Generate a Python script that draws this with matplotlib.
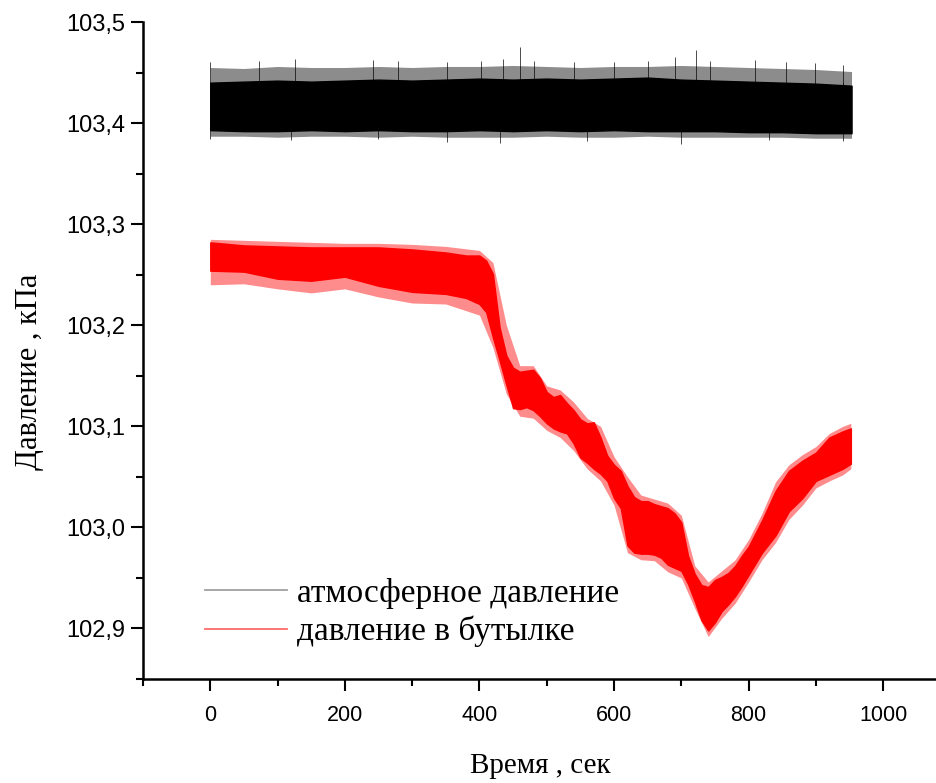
import matplotlib
matplotlib.use("Agg")
import matplotlib.pyplot as plt
from matplotlib.ticker import MultipleLocator, FuncFormatter
from matplotlib.lines import Line2D

# ---- data ----
# atmospheric pressure: dense core of the noise band (kPa)
black_t = [0, 50, 100, 150, 200, 250, 300, 350, 400, 450, 500, 550, 600, 650,
           700, 750, 800, 850, 900, 953]
black_hi = [103.440, 103.441, 103.442, 103.441, 103.442, 103.443, 103.442, 103.443,
            103.444, 103.443, 103.444, 103.443, 103.444, 103.445, 103.443, 103.442,
            103.441, 103.440, 103.439, 103.437]
black_lo = [103.393, 103.392, 103.392, 103.393, 103.392, 103.393, 103.392, 103.392,
            103.393, 103.392, 103.393, 103.392, 103.393, 103.392, 103.392, 103.392,
            103.391, 103.391, 103.390, 103.390]
# atmospheric pressure: sparse fringe of the noise band
black_fr_hi = [103.455, 103.454, 103.456, 103.455, 103.455, 103.456, 103.455, 103.456,
               103.456, 103.457, 103.456, 103.455, 103.456, 103.456, 103.457, 103.456,
               103.455, 103.454, 103.453, 103.451]
black_fr_lo = [103.387, 103.387, 103.386, 103.387, 103.387, 103.386, 103.387, 103.386,
               103.386, 103.386, 103.387, 103.386, 103.386, 103.387, 103.386, 103.386,
               103.386, 103.386, 103.385, 103.385]
# isolated tall spikes of the atmospheric trace
black_spk_up_t = [0, 73, 126, 242, 279, 352, 402, 435, 460, 481, 541, 600, 650,
                  690, 722, 743, 809, 856, 899, 940]
black_spk_up_v = [103.460, 103.461, 103.463, 103.462, 103.461, 103.460, 103.461,
                  103.463, 103.475, 103.461, 103.460, 103.460, 103.461, 103.465,
                  103.472, 103.461, 103.462, 103.460, 103.459, 103.457]
black_spk_dn_t = [0, 120, 250, 352, 430, 560, 700, 830, 940]
black_spk_dn_v = [103.384, 103.383, 103.384, 103.381, 103.380, 103.382, 103.379,
                  103.383, 103.382]

# pressure in the bottle: dense core of the noise band (kPa)
red_t = [0, 50, 100, 150, 200, 250, 300, 350, 380, 400, 410, 420, 430, 440, 450,
         460, 470, 480, 490, 500, 510, 520, 530, 540, 550, 560, 570, 580, 590, 600,
         610, 620, 630, 640, 650, 660, 670, 680, 690, 700, 710, 720, 730, 740, 750,
         760, 770, 780, 790, 800, 820, 840, 860, 880, 900, 920, 940, 952]
red_hi = [103.282, 103.279, 103.278, 103.277, 103.277, 103.277, 103.275, 103.272,
          103.269, 103.269, 103.264, 103.251, 103.198, 103.170, 103.158, 103.154,
          103.155, 103.156, 103.148, 103.134, 103.129, 103.131, 103.123, 103.116,
          103.107, 103.103, 103.104, 103.089, 103.071, 103.062, 103.056, 103.041,
          103.030, 103.026, 103.026, 103.023, 103.021, 103.019, 103.014, 103.005,
          102.972, 102.954, 102.943, 102.941, 102.948, 102.951, 102.955, 102.962,
          102.972, 102.981, 103.007, 103.036, 103.056, 103.066, 103.074, 103.089,
          103.095, 103.098]
red_lo = [103.254, 103.253, 103.246, 103.244, 103.248, 103.239, 103.233, 103.231,
          103.227, 103.221, 103.213, 103.188, 103.165, 103.141, 103.118, 103.117,
          103.119, 103.116, 103.110, 103.103, 103.098, 103.095, 103.093, 103.083,
          103.069, 103.064, 103.058, 103.053, 103.046, 103.029, 103.019, 102.982,
          102.975, 102.974, 102.974, 102.973, 102.970, 102.963, 102.960, 102.957,
          102.944, 102.927, 102.908, 102.898, 102.906, 102.917, 102.924, 102.932,
          102.942, 102.953, 102.975, 102.992, 103.016, 103.029, 103.046, 103.052,
          103.058, 103.063]
# pressure in the bottle: sparse fringe of the noise band
red_fr_t = [0, 50, 100, 150, 200, 250, 300, 350, 400, 420, 440, 460, 480, 500, 520,
            540, 560, 580, 600, 620, 640, 660, 680, 700, 720, 740, 760, 780, 800,
            820, 840, 860, 880, 900, 920, 940, 952]
red_fr_hi = [103.285, 103.284, 103.283, 103.282, 103.281, 103.281, 103.280, 103.278,
             103.274, 103.262, 103.200, 103.160, 103.160, 103.140, 103.136, 103.124,
             103.108, 103.100, 103.070, 103.050, 103.032, 103.028, 103.024, 103.012,
             102.962, 102.946, 102.957, 102.968, 102.988, 103.014, 103.045, 103.062,
             103.072, 103.080, 103.093, 103.100, 103.103]
red_fr_lo = [103.240, 103.241, 103.236, 103.232, 103.236, 103.228, 103.222, 103.221,
             103.210, 103.178, 103.132, 103.110, 103.108, 103.096, 103.089, 103.076,
             103.058, 103.046, 103.022, 102.975, 102.968, 102.967, 102.956, 102.950,
             102.920, 102.892, 102.910, 102.925, 102.946, 102.968, 102.985, 103.008,
             103.022, 103.039, 103.046, 103.052, 103.058]

legend_labels = ["атмосферное давление", "давление в бутылке"]
x_label = "Время , сек"
y_label = "Давление , кПа"

# ---- figure ----
fig = plt.figure(figsize=(9.37, 7.83), dpi=100)
ax = fig.add_axes([0.1526, 0.1328, 0.8474, 0.8391])

ax.fill_between(black_t, black_fr_lo, black_fr_hi, color="black", alpha=0.45, lw=0)
ax.fill_between(black_t, black_lo, black_hi, color="black", lw=1.0, edgecolor="black")
ax.vlines(black_spk_up_t, black_lo[0], black_spk_up_v, color="black", lw=0.7, alpha=0.7)
ax.vlines(black_spk_dn_t, black_spk_dn_v, black_hi[0], color="black", lw=0.7, alpha=0.7)

ax.fill_between(red_fr_t, red_fr_lo, red_fr_hi, color="#ff0000", alpha=0.45, lw=0)
ax.fill_between(red_t, red_lo, red_hi, color="#ff0000", lw=1.0, edgecolor="#ff0000")

ax.set_xlim(-100, 1080)
ax.set_ylim(102.85, 103.5)

for s in ["top", "right"]:
    ax.spines[s].set_visible(False)
for s in ["left", "bottom"]:
    ax.spines[s].set_linewidth(1.8)

ax.xaxis.set_major_locator(MultipleLocator(200))
ax.xaxis.set_minor_locator(MultipleLocator(100))
ax.yaxis.set_major_locator(MultipleLocator(0.1))
ax.yaxis.set_minor_locator(MultipleLocator(0.05))
ax.yaxis.set_major_formatter(FuncFormatter(lambda v, p: f"{v:.1f}".replace(".", ",")))
ax.xaxis.set_major_formatter(FuncFormatter(lambda v, p: f"{v:.0f}"))

ax.tick_params(which="major", direction="out", length=8.5, width=1.5)
ax.tick_params(which="minor", direction="out", length=5, width=1.5)
ax.tick_params(axis="y", labelsize=17, pad=4)
ax.tick_params(axis="x", labelsize=15.5, pad=10)
for lab in ax.get_xticklabels() + ax.get_yticklabels():
    lab.set_family("Liberation Sans")

ax.set_xlabel(x_label, fontsize=21, family="Liberation Serif", labelpad=20)
ax.set_ylabel(y_label, fontsize=22, family="Liberation Serif")
ax.yaxis.set_label_coords(-0.125, 0.467)

handles = [Line2D([], [], color="#a0a0a0", lw=1.3),
           Line2D([], [], color="#ff6a6a", lw=1.3)]
ax.legend(handles, legend_labels, loc="upper left", bbox_to_anchor=(0.078, 0.1545),
          frameon=False, handlelength=2.46, handletextpad=0.3, labelspacing=0.22,
          borderpad=0, borderaxespad=0,
          prop={"family": "Liberation Serif", "size": 24})

fig.savefig("out.png", dpi=100)
